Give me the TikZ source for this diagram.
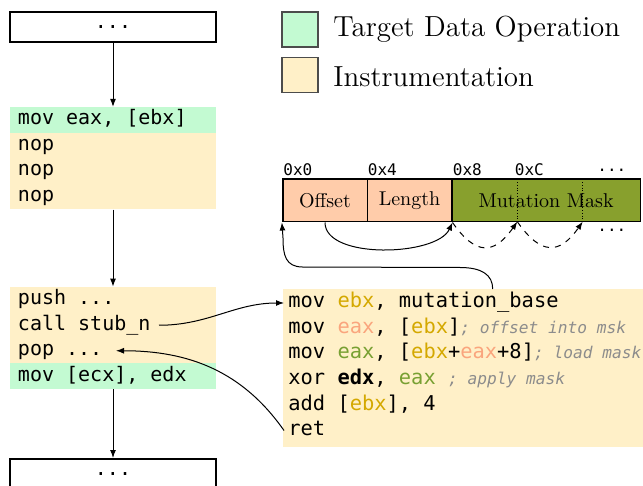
\documentclass[tikz,border=0pt]{standalone}
\usepackage{fontspec}
\setmonofont{DejaVu Sans Mono}
\usetikzlibrary{arrows.meta}
\definecolor{tgt}{RGB}{195,250,210}
\definecolor{instr}{RGB}{255,240,200}
\definecolor{peach}{RGB}{255,204,170}
\definecolor{olive}{RGB}{136,160,45}
\definecolor{gold}{RGB}{212,168,0}
\definecolor{eaxp}{RGB}{250,165,125}
\definecolor{eaxg}{RGB}{120,160,50}
\definecolor{cmtgray}{RGB}{140,140,140}
\newcommand{\mycmt}[1]{{\fontsize{8.1}{10}\selectfont\itshape\color{cmtgray}#1}}
\newcommand{\mycode}[1]{\spaceskip=0pt\xspaceskip=0pt\mbox{#1}}
\begin{document}
\begin{tikzpicture}[x=0.5pt,y=-0.5pt,
  arr/.style={-{Latex[length=4pt,width=3pt]}, line width=0.5pt},
  dotbox/.style={draw, line width=1pt, minimum width=103pt, minimum height=15pt, inner sep=0,
    font=\ttfamily\fontsize{10}{12}\selectfont},
  row/.style={minimum width=103pt, minimum height=12.75pt, inner xsep=4pt, inner ysep=0,
    text width=95pt, align=left, text height=7.5pt, text depth=2.5pt,
    font=\ttfamily\fontsize{10}{12}\selectfont},
  codeline/.style={anchor=west, inner xsep=2pt, inner ysep=0, text height=7.5pt, text depth=2.5pt,
    font=\ttfamily\fontsize{10.2}{12}\selectfont},
  cell/.style={draw, line width=0.8pt, inner sep=0, minimum height=21.2pt,
    font=\fontsize{10}{12}\selectfont},
  addr/.style={anchor=base west, inner sep=0, font=\ttfamily\fontsize{8}{10}\selectfont},
  swatch/.style={draw=black!70, line width=0.6pt, minimum width=18pt, minimum height=17.5pt, inner sep=0},
  legtext/.style={anchor=base west, inner sep=0, font=\fontsize{14.5}{17}\selectfont}
]
\useasboundingbox (0,0) rectangle (643,486);
\clip (0,0) rectangle (643,486);

% legend
\node[swatch, fill=tgt] (lg1) at (300,29.5) {};
\node[swatch, fill=instr] (lg2) at (300,75) {};
\node[legtext] (lt1) at (333,37) {Target Data Operation};
\node[legtext] (lt2) at (333,86.5) {Instrumentation};

% left column
\node[dotbox] (topbox) at (113,27) {...};
\node[row, fill=tgt] (r1) at (113,120) {\mycode{mov eax, [ebx]}};
\node[row, fill=instr] (r2) at (113,145.5) {\mycode{nop}};
\node[row, fill=instr] (r3) at (113,171) {\mycode{nop}};
\node[row, fill=instr] (r4) at (113,196.5) {\mycode{nop}};

\node[row, fill=instr] (s1) at (113,299.75) {\mycode{push ...}};
\node[row, fill=instr] (s2) at (113,325.25) {\mycode{call stub\_n}};
\node[row, fill=instr] (s3) at (113,350.75) {\mycode{pop ...}};
\node[row, fill=tgt] (s4) at (113,376.25) {\mycode{mov [ecx], edx}};
\node[dotbox] (botbox) at (113,474) {...};

\draw[arr] (topbox.south) -- (r1.north);
\draw[arr] (r4.south) -- (s1.north);
\draw[arr] (s4.south) -- (botbox.north);

% memory layout
\node[cell, fill=peach, minimum width=42.3pt] (off) at (325,200.5) {Offset};
\node[cell, fill=peach, minimum width=42.2pt] (len) at (409.5,200.5) {Length};
\node[cell, fill=olive, minimum width=94.4pt] (mask) at (546.1,200.5) {};
\draw[densely dotted, line width=0.4pt] (517.3,179.3) -- (517.3,221.7);
\draw[densely dotted, line width=0.4pt] (582.7,179.3) -- (582.7,221.7);
\node[font=\fontsize{10}{12}\selectfont, inner sep=0] (masktxt) at (mask.center) {Mutation Mask};

\node[addr] (a0) at (283,176) {0x0};
\node[addr] (a4) at (367.5,176) {0x4};
\node[addr] (a8) at (452.5,176) {0x8};
\node[addr] (aC) at (514.5,176) {0xC};
\node[addr] (dt1) at (597,172) {...};
\node[addr] (dt2) at (597,231.5) {...};

\coordinate (m1) at (517.3,221.7);
\coordinate (m2) at (582.7,221.7);
\draw[arr] (off.south) to[out=-90,in=-115,looseness=0.75] (len.south east);
\draw[arr, dash pattern=on 3pt off 3pt] (len.south east) to[out=-55,in=-125,looseness=1.6] (m1);
\draw[arr, dash pattern=on 3pt off 3pt] (m1) to[out=-55,in=-125,looseness=1.6] (m2);

% stub code
\node[fill=instr, anchor=north west, minimum width=185pt, minimum height=79pt, inner sep=0] (codebox) at (283,289) {};
\node[codeline] (c1) at (284,303) {mov \textcolor{gold}{ebx}, mutation\_base};
\node[codeline] (c2) at (284,328.5) {mov \textcolor{eaxp}{eax}, [\textcolor{gold}{ebx}]\mycmt{; offset into msk}};
\node[codeline] (c3) at (284,354) {mov \textcolor{eaxg}{eax}, [\textcolor{gold}{ebx}+\textcolor{eaxp}{eax}+8]\mycmt{; load mask}};
\node[codeline] (c4) at (284,379.5) {xor \textbf{edx}, \textcolor{eaxg}{eax} \mycmt{; apply mask}};
\node[codeline] (c5) at (284,405) {add [\textcolor{gold}{ebx}], 4};
\node[codeline] (c6) at (284,430.5) {ret};

\coordinate (kt) at (492.7,289);
\draw[arr] (kt) .. controls (492.7,275) and (482,267.5) .. (460,267.5) -- (302,267)
  .. controls (286,266.5) and (283,256) .. (283,238) -- (off.south west);

\coordinate (callend) at (159,325.25);
\coordinate (popend) at (116,350.75);
\draw[arr] (callend) to[out=0,in=180] (c1.west);
\draw[arr] (c6.west) to[out=125,in=0] (popend);
\end{tikzpicture}
\end{document}
